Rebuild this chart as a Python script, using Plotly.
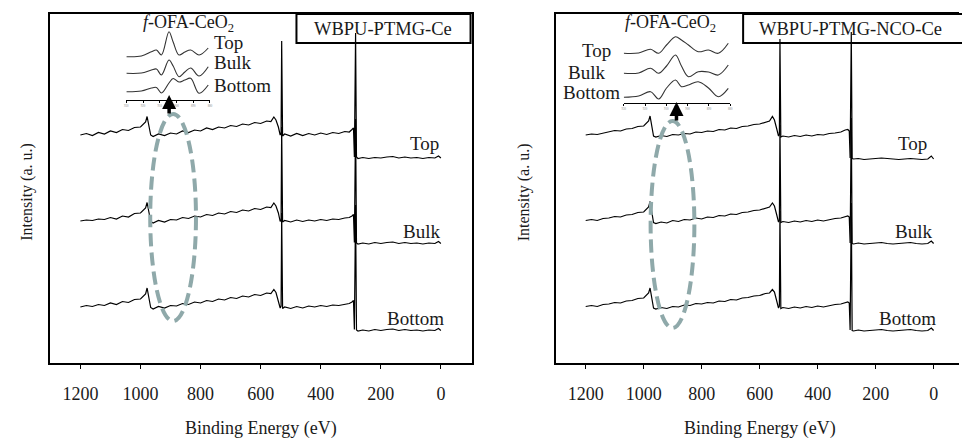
import plotly.graph_objects as go

# ---------------- data ----------------
BE = [1200, 1180, 1160, 1140, 1120, 1100, 1080, 1060, 1040, 1020,
      1000, 990, 983, 978, 973, 966, 958, 940, 920, 900,
      880, 860, 840, 820, 800, 780, 760, 740, 720, 700,
      680, 660, 640, 620, 600, 580, 566, 556, 549, 541,
      535, 532, 530, 527, 520, 500, 480, 460, 440, 420,
      400, 380, 360, 340, 320, 305, 296, 291, 288, 284,
      281, 276, 260, 240, 220, 200, 180, 160, 140, 120,
      100, 80, 60, 40, 20, 8, 0]

ce_top = [228, 229.5, 227.5, 230.5, 229, 232, 230.5, 233.5, 232.5, 235.5,
          236, 238.5, 241, 246.5, 237, 228, 226.5, 229, 227.5, 230,
          229, 232, 230.5, 233, 232, 235, 233.5, 236, 235, 237.5,
          236.5, 239, 238, 240.5, 239.5, 242, 241.5, 246, 243, 236,
          228, 230, 322, 227, 229, 227, 229.5, 227.5, 229.5, 228,
          230, 228.5, 230.5, 229.5, 231.5, 231, 233.5, 235, 206, 330,
          206, 204.5, 205.5, 204.5, 205.5, 205, 206, 206.5, 205, 206,
          205, 205.5, 204.5, 205.5, 205, 207, 205]

ce_bulk = [142, 143, 142.5, 144, 143.5, 145.5, 144, 147, 146, 149.5,
           150, 152.5, 155, 160.5, 151, 141.5, 140, 142.5, 141, 143.5,
           143, 145.5, 144.5, 147, 146, 148.5, 147.5, 150, 149, 151.5,
           150.5, 153, 152, 154.5, 153.5, 156, 155.5, 160, 157, 150,
           141.5, 143, 236, 141, 142.5, 141, 143, 141.5, 143, 142,
           143.5, 142.5, 144, 143.5, 145, 145.5, 147, 148.5, 120.5, 244,
           120, 119, 120, 119, 120.5, 119.5, 120.5, 121, 119.5, 120.5,
           119.5, 120, 119, 120, 119.5, 121.5, 119.5]

ce_bottom = [56, 57.5, 56.5, 58.5, 57.5, 60, 58.5, 61.5, 60.5, 63.5,
             64, 66.5, 69, 75, 65, 55.5, 54, 56.5, 55, 57.5,
             57, 59.5, 58.5, 61, 60, 62.5, 61.5, 64, 63, 65.5,
             64.5, 67, 66, 68.5, 67.5, 70, 69.5, 73.5, 70.5, 63,
             55, 57, 150, 54.5, 56, 54.5, 56.5, 55, 57, 56,
             57.5, 56.5, 58, 57.5, 59, 59.5, 61, 62.5, 33.5, 158,
             33, 32, 33, 32, 33.5, 32.5, 33.5, 34, 32.5, 33.5,
             32.5, 33, 32, 33, 32.5, 34.5, 32.5]

nco_top = [228, 229, 228.5, 230, 231.5, 232.5, 232, 234, 234.5, 236.5,
           237, 239.5, 242, 247, 238, 227, 226, 227.5, 226.5, 228.5,
           228, 229.5, 229, 231, 230.5, 232, 231.5, 233.5, 233, 235,
           234.5, 236.5, 237, 238.5, 239, 241, 242, 246.5, 243, 234,
           227, 229, 324, 226, 227, 226, 227.5, 226.5, 228, 227,
           228.5, 228, 229.5, 230, 231, 233, 233.5, 232, 205, 331,
           204.5, 204, 204.5, 203.5, 204, 204.5, 205, 204.5, 204, 203.5,
           204, 204.5, 204, 203.5, 204, 207, 204]

nco_bulk = [142.5, 143.5, 142.5, 144.5, 145, 146.5, 146, 148, 148.5, 150.5,
            151, 153.5, 156, 161.5, 152, 140.5, 139.5, 141, 140, 142.5,
            141.5, 143.5, 143, 145, 144, 146, 145.5, 147.5, 147, 149,
            148.5, 150.5, 151, 152.5, 153, 155, 156, 160, 157, 148,
            141, 143, 238, 140.5, 141.5, 140.5, 142, 141, 142.5, 141.5,
            143, 142, 143.5, 144.5, 145, 146.5, 147, 146, 120, 245,
            119.5, 119, 120, 119, 119.5, 120, 120.5, 119.5, 119, 119.5,
            120, 120.5, 119.5, 119, 119.5, 122, 119.5]

nco_bottom = [56.5, 57.5, 56.5, 58.5, 59, 60.5, 60, 62, 62.5, 64.5,
              65, 67.5, 70, 75, 66, 55, 54, 55.5, 54.5, 56.5,
              56, 58, 57.5, 59.5, 59, 60.5, 60, 62, 61.5, 63.5,
              63, 65, 65.5, 67, 67.5, 69.5, 70, 73.5, 71, 62,
              55, 57, 152, 54.5, 55.5, 54.5, 56, 55, 56.5, 55.5,
              57, 56, 57.5, 58.5, 59, 60.5, 61, 60, 33, 160,
              32.5, 32, 33, 32, 32.5, 33, 33.5, 32.5, 32, 32.5,
              33, 33.5, 32.5, 32, 32.5, 35, 32.5]

XTICKS = [1200, 1000, 800, 600, 400, 200, 0]

# insets (Ce 3d region of f-OFA-CeO2)
IN_TICKS = [930, 920, 910, 900, 890, 880]
in1_be = [930, 921, 915, 912, 909, 904.5, 902, 898.5, 895, 891.5, 886.5, 881]
in1_top = [43.3, 44, 48.3, 50, 45, 68.3, 58, 45, 48, 50, 45, 52]
in1_bulk = [26.7, 27, 30, 31, 25, 40, 34, 23.3, 28, 32, 24, 33.3]
in1_bottom = [8.3, 9, 12, 12.5, 7, 17, 21.5, 18, 20, 21.7, 6.7, 15]

in2_be = [930, 923, 917.4, 913.6, 909.9, 905.7, 902.9, 899.6, 895, 890.2, 885.6, 880.9]
in2_top = [49.7, 50, 53.7, 49.7, 58, 66.3, 63, 58, 51.3, 53, 49.7, 59.7]
in2_bulk = [29.7, 30, 34.7, 29.7, 37, 48, 37, 26.3, 31.3, 31, 28, 38]
in2_bottom = [5.7, 7, 11.3, 4, 15, 23, 16.3, 18, 21.3, 15, 6.3, 14.7]

# ---------------- figure ----------------
W, H = 962, 439
FONT = "'Liberation Serif', 'Times New Roman', 'DejaVu Serif', serif"
TXT = "#1a1a1a"


def px(x):
    return x / W


def py(y):
    return 1 - y / H


fig = go.Figure()
for ys in (ce_top, ce_bulk, ce_bottom):
    fig.add_trace(go.Scatter(x=BE, y=ys, mode="lines", xaxis="x", yaxis="y",
                             line=dict(color="black", width=1.2), showlegend=False))
for ys in (nco_top, nco_bulk, nco_bottom):
    fig.add_trace(go.Scatter(x=BE, y=ys, mode="lines", xaxis="x2", yaxis="y2",
                             line=dict(color="black", width=1.2), showlegend=False))
for ys in (in1_top, in1_bulk, in1_bottom):
    fig.add_trace(go.Scatter(x=in1_be, y=ys, mode="lines", xaxis="x3", yaxis="y3",
                             line=dict(color="#333", width=1.1, shape="spline"), showlegend=False))
for ys in (in2_top, in2_bulk, in2_bottom):
    fig.add_trace(go.Scatter(x=in2_be, y=ys, mode="lines", xaxis="x4", yaxis="y4",
                             line=dict(color="#333", width=1.1, shape="spline"), showlegend=False))

ydom = [py(363), py(14)]
main_x = dict(showline=True, linecolor="black", linewidth=1.5, ticks="outside", ticklen=4,
              tickwidth=1, tickcolor="black", tickvals=XTICKS, showgrid=False, zeroline=False,
              tickfont=dict(family=FONT, size=18, color=TXT), ticklabelstandoff=10)
main_y = dict(showline=True, linecolor="black", linewidth=1.5, showticklabels=False, ticks="",
              showgrid=False, zeroline=False, range=[0, 349], domain=ydom)
inset_x = dict(showline=True, linecolor="black", linewidth=1, ticks="outside", ticklen=2,
               tickwidth=1, tickcolor="black", tickvals=IN_TICKS, showgrid=False, zeroline=False,
               range=[930, 880], tickfont=dict(family=FONT, size=3, color="#888"))
inset_y = dict(visible=False, showgrid=False, zeroline=False)

fig.update_layout(
    width=W, height=H, margin=dict(l=0, r=0, t=0, b=0),
    paper_bgcolor="white", plot_bgcolor="rgba(0,0,0,0)",
    font=dict(family=FONT, color=TXT),
    xaxis=dict(main_x, domain=[px(48), px(472)], range=[1302, -102], mirror=True, anchor="y"),
    yaxis=dict(main_y, mirror=True, anchor="x"),
    xaxis2=dict(main_x, domain=[px(557), 1.0], range=[1302, -87.5], mirror=True, anchor="y2"),
    yaxis2=dict(main_y, mirror=False, anchor="x2"),
    xaxis3=dict(inset_x, domain=[px(125), px(209)], anchor="y3"),
    yaxis3=dict(inset_y, domain=[py(100), py(28)], range=[0, 72], anchor="x3"),
    xaxis4=dict(inset_x, domain=[px(625), px(732)], anchor="y4"),
    yaxis4=dict(inset_y, domain=[py(103), py(30)], range=[0, 73], anchor="x4"),
)

ann = []


def label(text, x, y, size=19, xanchor="center", angle=0):
    ann.append(dict(text=text, x=px(x), y=py(y), xref="paper", yref="paper",
                    xanchor=xanchor, yanchor="middle", showarrow=False, textangle=angle,
                    font=dict(family=FONT, size=size, color=TXT)))


# axis titles
label("Binding Energy (eV)", 260, 428, 18)
label("Binding Energy (eV)", 762, 428, 18)
label("Intensity (a. u.)", 25, 192, 16, angle=-90)
label("Intensity (a. u.)", 525, 192, 16, angle=-90)

# spectrum labels
label("Top", 425, 143)
label("Bulk", 422, 231)
label("Bottom", 416, 318)
label("Top", 915, 143)
label("Bulk", 916, 231)
label("Bottom", 910, 318)

# inset titles and labels
label("<i>f</i>-OFA-CeO<sub>2</sub>", 187, 23, 18)
label("<i>f</i>-OFA-CeO<sub>2</sub>", 672, 24, 18)
label("Top", 211, 42, 19, xanchor="left")
label("Bulk", 211, 63, 19, xanchor="left")
label("Bottom", 211, 85, 19, xanchor="left")
label("Top", 614, 50, 19, xanchor="right")
label("Bulk", 608, 72, 19, xanchor="right")
label("Bottom", 623, 92, 19, xanchor="right")

# boxed sample names
label("WBPU-PTMG-Ce", 383, 29, 18.5)
label("WBPU-PTMG-NCO-Ce", 853, 29, 18.5)

# arrows
for ax_x, tip_y in ((168, 95), (678, 102)):
    ann.append(dict(text="", x=px(ax_x), y=py(tip_y), xref="paper", yref="paper",
                    showarrow=True, ax=0, ay=20, arrowhead=2, arrowsize=0.8,
                    arrowwidth=3.5, arrowcolor="black"))

fig.update_layout(annotations=ann)

shapes = [
    dict(type="rect", xref="paper", yref="paper", x0=px(296), x1=px(471), y0=py(43), y1=py(14),
         line=dict(color="black", width=2), fillcolor="rgba(0,0,0,0)"),
    dict(type="rect", xref="paper", yref="paper", x0=px(745), x1=1.03, y0=py(43), y1=py(14),
         line=dict(color="black", width=2), fillcolor="rgba(0,0,0,0)"),
    dict(type="circle", xref="paper", yref="paper", x0=px(149), x1=px(195), y0=py(321), y1=py(114),
         line=dict(color="#8FA9AA", width=4, dash="13px,6px")),
    dict(type="circle", xref="paper", yref="paper", x0=px(652), x1=px(696), y0=py(328), y1=py(121),
         line=dict(color="#8FA9AA", width=4, dash="13px,6px")),
]
fig.update_layout(shapes=shapes)

fig.write_html("out.html")
